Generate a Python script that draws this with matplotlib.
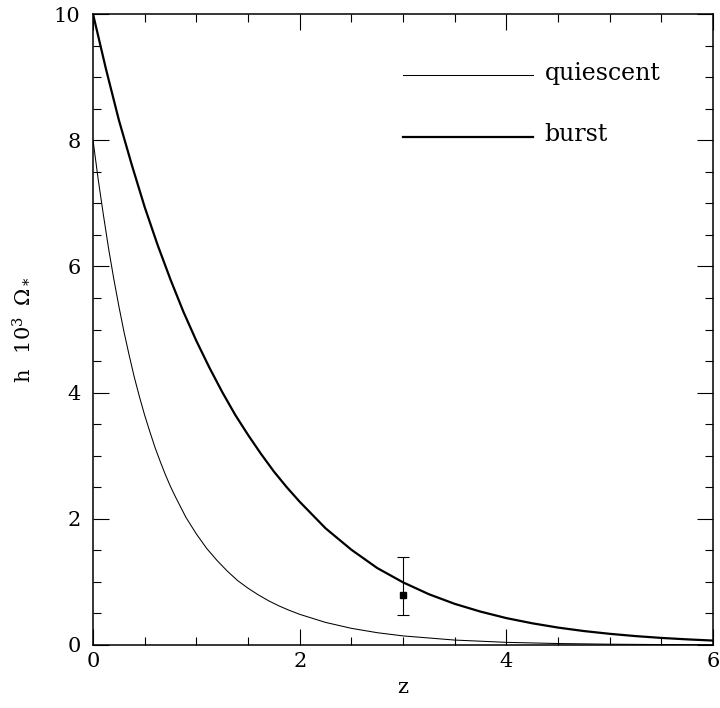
import numpy as np
import matplotlib
matplotlib.use("Agg")
import matplotlib.pyplot as plt
from matplotlib.ticker import MultipleLocator

# Stellar mass density h 10^3 Omega_* versus redshift for two star-formation scenarios
z_burst = [0.0, 0.125, 0.25, 0.375, 0.5, 0.625, 0.75, 0.875, 1.0,
           1.125, 1.25, 1.375, 1.5, 1.625, 1.75, 1.875, 2.0,
           2.25, 2.5, 2.75, 3.0, 3.25, 3.5, 3.75, 4.0, 4.25, 4.5,
           4.75, 5.0, 5.25, 5.5, 5.75, 6.0]
omega_burst = [10.0, 9.13, 8.32, 7.61, 6.94, 6.34, 5.79, 5.28, 4.82,
               4.40, 4.01, 3.65, 3.33, 3.03, 2.75, 2.50, 2.27,
               1.85, 1.51, 1.22, 0.993, 0.805, 0.652, 0.529, 0.426, 0.344, 0.276,
               0.221, 0.177, 0.141, 0.112, 0.089, 0.070]

z_quiet = [0.0, 0.05, 0.1, 0.15, 0.2, 0.25, 0.3, 0.35, 0.4, 0.45, 0.5,
           0.55, 0.6, 0.65, 0.7, 0.75, 0.8, 0.85, 0.9, 0.95, 1.0,
           1.1, 1.2, 1.3, 1.4, 1.5, 1.6, 1.7, 1.8, 1.9, 2.0,
           2.25, 2.5, 2.75, 3.0, 3.5, 4.0, 4.5, 5.0, 5.5, 6.0]
omega_quiet = [8.0, 7.38, 6.82, 6.29, 5.81, 5.37, 4.96, 4.59, 4.24, 3.93, 3.64,
               3.38, 3.13, 2.91, 2.70, 2.51, 2.34, 2.18, 2.02, 1.89, 1.76,
               1.53, 1.34, 1.17, 1.02, 0.90, 0.794, 0.70, 0.619, 0.549, 0.486,
               0.358, 0.264, 0.195, 0.144, 0.078, 0.042, 0.023, 0.0125, 0.0068, 0.0037]

# Observed point with asymmetric error bar
z_obs = [3.0]
omega_obs = [0.8]
err_low = [0.32]
err_high = [0.6]

legend_labels = ["quiescent", "burst"]

plt.rcParams["font.family"] = ["DejaVu Serif"]
plt.rcParams["mathtext.fontset"] = "dejavuserif"

fig = plt.figure(figsize=(7.2, 7.08), dpi=100)
ax = fig.add_axes([0.1292, 0.0890, 0.8611, 0.8912])

ax.plot(z_quiet, omega_quiet, color="black", lw=0.75)
ax.plot(z_burst, omega_burst, color="black", lw=1.6)
ax.errorbar(z_obs, omega_obs, yerr=[err_low, err_high], fmt="s", color="black",
            ms=5, lw=0.8, capsize=4, capthick=0.8)

ax.set_xlim(0, 6)
ax.set_ylim(0, 10)

ax.xaxis.set_major_locator(MultipleLocator(2))
ax.xaxis.set_minor_locator(MultipleLocator(0.5))
ax.yaxis.set_major_locator(MultipleLocator(2))
ax.yaxis.set_minor_locator(MultipleLocator(0.5))

ax.tick_params(which="both", direction="in", top=True, right=True, width=0.8,
               labelsize=15)
ax.tick_params(which="major", length=11.5)
ax.tick_params(which="minor", length=5.8)
ax.tick_params(axis="x", pad=5)
ax.tick_params(axis="y", pad=9)
for s in ax.spines.values():
    s.set_linewidth(1.1)

ax.set_xlabel("z", fontsize=15)
ax.xaxis.set_label_coords(0.5, -0.052)
ax.set_ylabel(r"h$\;\;\;$10$^3$$\;\;$$\Omega_*$", fontsize=15)
ax.yaxis.set_label_coords(-0.100, 0.50)

# Key drawn in axes coordinates
ax.plot([0.50, 0.71], [0.903, 0.903], transform=ax.transAxes, color="black", lw=0.75)
ax.plot([0.50, 0.71], [0.805, 0.805], transform=ax.transAxes, color="black", lw=1.6)
ax.text(0.728, 0.895, legend_labels[0], transform=ax.transAxes, fontsize=17,
        va="baseline", ha="left")
ax.text(0.728, 0.798, legend_labels[1], transform=ax.transAxes, fontsize=17,
        va="baseline", ha="left")

fig.savefig("out.png", dpi=100)
